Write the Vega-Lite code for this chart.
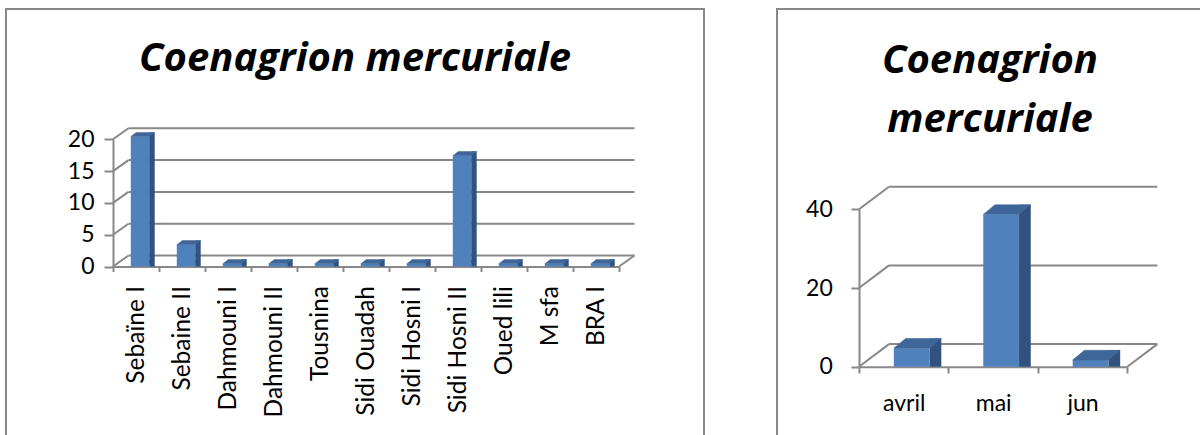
{
  "$schema": "https://vega.github.io/schema/vega-lite/v6.json",
  "background": "white",
  "padding": {"left": -8, "top": 8, "right": 0, "bottom": 0},
  "spacing": 73,
  "bounds": "flush",
  "config": {
    "font": "Lato",
    "view": {"stroke": "#888888", "strokeWidth": 2},
    "axis": {
      "domainColor": "#888888", "domainWidth": 2,
      "tickColor": "#888888", "tickWidth": 2,
      "labelColor": "#000000", "labelFont": "Lato", "labelFontSize": 23,
      "grid": false, "labelOverlap": false
    }
  },
  "datasets": {
    "sites": [
      {"site": "Sebaïne I", "n": 20},
      {"site": "Sebaine II", "n": 3},
      {"site": "Dahmouni I", "n": 0},
      {"site": "Dahmouni II", "n": 0},
      {"site": "Tousnina", "n": 0},
      {"site": "Sidi Ouadah", "n": 0},
      {"site": "Sidi Hosni I", "n": 0},
      {"site": "Sidi Hosni II", "n": 17},
      {"site": "Oued lili", "n": 0},
      {"site": "M sfa", "n": 0},
      {"site": "BRA I", "n": 0}
    ],
    "months": [
      {"mois": "avril", "n": 3},
      {"mois": "mai", "n": 37},
      {"mois": "jun", "n": 0}
    ],
    "ticksSites": [{"v": 0}, {"v": 5}, {"v": 10}, {"v": 15}, {"v": 20}],
    "ticksMonths": [{"v": 0}, {"v": 20}, {"v": 40}]
  },
  "hconcat": [
    {
      "width": 698,
      "height": 440,
      "title": {
        "text": "Coenagrion mercuriale",
        "font": "Open Sans", "fontSize": 40, "fontWeight": "bold", "fontStyle": "italic",
        "color": "#000000", "anchor": "middle", "frame": "group",
        "baseline": "alphabetic", "offset": -102
      },
      "layer": [
        {
          "data": {"name": "ticksSites"},
          "mark": {"type": "rule", "color": "#888888", "strokeWidth": 2, "xOffset": 15.5, "x2Offset": 15.5, "yOffset": -11},
          "encoding": {
            "x": {"datum": "Sebaïne I", "type": "nominal", "bandPosition": 0,
              "axis": {"orient": "bottom", "offset": -182.5, "title": null, "tickBand": "extent", "tickSize": 5, "labelAngle": -90, "labelAlign": "right", "labelBaseline": "middle", "labelPadding": 14, "labelFontSize": 24.5}},
            "x2": {"datum": "BRA I", "bandPosition": 1},
            "y": {"field": "v", "type": "quantitative",
              "axis": {"orient": "left", "offset": -107, "title": null, "values": [0, 5, 10, 15, 20], "tickSize": 9, "labelPadding": 10}}
          }
        },
        {
          "data": {"name": "ticksSites"},
          "mark": {"type": "point", "shape": "M0,0L15.5,-11", "size": 4, "filled": false, "opacity": 1, "stroke": "#888888", "strokeWidth": 2},
          "encoding": {
            "x": {"datum": "Sebaïne I", "type": "nominal", "bandPosition": 0,
              "axis": {"orient": "bottom", "offset": -182.5, "title": null, "tickBand": "extent", "tickSize": 5, "labelAngle": -90, "labelAlign": "right", "labelBaseline": "middle", "labelPadding": 14, "labelFontSize": 24.5}},
            "y": {"field": "v", "type": "quantitative",
              "axis": {"orient": "left", "offset": -107, "title": null, "values": [0, 5, 10, 15, 20], "tickSize": 9, "labelPadding": 10}}
          }
        },
        {
          "data": {"name": "ticksSites"},
          "transform": [{"filter": "datum.v == 0"}],
          "mark": {"type": "point", "shape": "M0,0L15.5,-11", "size": 4, "filled": false, "opacity": 1, "stroke": "#888888", "strokeWidth": 2},
          "encoding": {
            "x": {"datum": "BRA I", "type": "nominal", "bandPosition": 1,
              "axis": {"orient": "bottom", "offset": -182.5, "title": null, "tickBand": "extent", "tickSize": 5, "labelAngle": -90, "labelAlign": "right", "labelBaseline": "middle", "labelPadding": 14, "labelFontSize": 24.5}},
            "y": {"field": "v", "type": "quantitative",
              "axis": {"orient": "left", "offset": -107, "title": null, "values": [0, 5, 10, 15, 20], "tickSize": 9, "labelPadding": 10}}
          }
        },
        {
          "data": {"name": "sites"},
          "mark": {"type": "bar", "color": "#31527E", "width": 5.5, "xOffset": 15.95, "yOffset": -6.9, "y2Offset": -6.9},
          "encoding": {
            "x": {"field": "site", "type": "nominal", "sort": null,
              "axis": {"orient": "bottom", "offset": -182.5, "title": null, "tickBand": "extent", "tickSize": 5, "labelAngle": -90, "labelAlign": "right", "labelBaseline": "middle", "labelPadding": 14, "labelFontSize": 24.5}},
            "y": {"field": "n", "type": "quantitative", "stack": null,
              "axis": {"orient": "left", "offset": -107, "title": null, "values": [0, 5, 10, 15, 20], "tickSize": 9, "labelPadding": 10}}
          }
        },
        {
          "data": {"name": "sites"},
          "mark": {"type": "point", "shape": "M0,-4.2L5.5,-4.2L0,0Z", "size": 4, "filled": true, "opacity": 1, "color": "#31527E", "xOffset": 13.2, "yOffset": -2.7},
          "encoding": {
            "x": {"field": "site", "type": "nominal", "sort": null,
              "axis": {"orient": "bottom", "offset": -182.5, "title": null, "tickBand": "extent", "tickSize": 5, "labelAngle": -90, "labelAlign": "right", "labelBaseline": "middle", "labelPadding": 14, "labelFontSize": 24.5}},
            "y": {"datum": 0, "type": "quantitative",
              "axis": {"orient": "left", "offset": -107, "title": null, "values": [0, 5, 10, 15, 20], "tickSize": 9, "labelPadding": 10}}
          }
        },
        {
          "data": {"name": "sites"},
          "mark": {"type": "bar", "color": "#4F81BD", "width": {"band": 0.4}, "xOffset": 4, "yOffset": -2.7, "y2Offset": -2.7},
          "encoding": {
            "x": {
              "field": "site", "type": "nominal", "sort": null,
              "scale": {
                "domain": ["Sebaïne I", "Sebaine II", "Dahmouni I", "Dahmouni II", "Tousnina", "Sidi Ouadah", "Sidi Hosni I", "Sidi Hosni II", "Oued lili", "M sfa", "BRA I"],
                "range": [107, 613], "paddingInner": 0, "paddingOuter": 0
              },
              "axis": {"orient": "bottom", "offset": -182.5, "title": null, "tickBand": "extent", "tickSize": 5, "labelAngle": -90, "labelAlign": "right", "labelBaseline": "middle", "labelPadding": 14, "labelFontSize": 24.5}
            },
            "y": {
              "field": "n", "type": "quantitative", "stack": null,
              "scale": {"domain": [0, 20], "range": [257.5, 130.3], "nice": false},
              "axis": {"orient": "left", "offset": -107, "title": null, "values": [0, 5, 10, 15, 20], "tickSize": 9, "labelPadding": 10}
            }
          }
        },
        {
          "data": {"name": "sites"},
          "mark": {"type": "point", "shape": "M-9.2,0L9.2,0L14.7,-4.2L-3.7,-4.2Z", "size": 4, "filled": true, "opacity": 1, "color": "#3E6698", "stroke": "#3E6698", "strokeWidth": 0.5, "xOffset": 4, "yOffset": -2.7},
          "encoding": {
            "x": {"field": "site", "type": "nominal", "sort": null,
              "axis": {"orient": "bottom", "offset": -182.5, "title": null, "tickBand": "extent", "tickSize": 5, "labelAngle": -90, "labelAlign": "right", "labelBaseline": "middle", "labelPadding": 14, "labelFontSize": 24.5}},
            "y": {"field": "n", "type": "quantitative",
              "axis": {"orient": "left", "offset": -107, "title": null, "values": [0, 5, 10, 15, 20], "tickSize": 9, "labelPadding": 10}}
          }
        }
      ]
    },
    {
      "width": 426,
      "height": 440,
      "title": {
        "text": ["Coenagrion", "mercuriale"],
        "font": "Open Sans", "fontSize": 40, "fontWeight": "bold", "fontStyle": "italic",
        "color": "#000000", "anchor": "middle", "frame": "group",
        "baseline": "alphabetic", "lineHeight": 59.3, "offset": -163
      },
      "layer": [
        {
          "data": {"name": "ticksMonths"},
          "mark": {"type": "rule", "color": "#888888", "strokeWidth": 2, "xOffset": 30, "x2Offset": 30, "yOffset": -22.6},
          "encoding": {
            "x": {"datum": "avril", "type": "nominal", "bandPosition": 0,
              "axis": {"orient": "bottom", "offset": -82.3, "title": null, "tickBand": "extent", "tickSize": 6.3, "labelAngle": 0, "labelAlign": "center", "labelBaseline": "alphabetic", "labelPadding": 37}},
            "x2": {"datum": "jun", "bandPosition": 1},
            "y": {"field": "v", "type": "quantitative",
              "axis": {"orient": "left", "offset": -82, "title": null, "values": [0, 20, 40], "tickSize": 8, "labelPadding": 18.7}}
          }
        },
        {
          "data": {"name": "ticksMonths"},
          "mark": {"type": "point", "shape": "M0,0L30,-22.6", "size": 4, "filled": false, "opacity": 1, "stroke": "#888888", "strokeWidth": 2},
          "encoding": {
            "x": {"datum": "avril", "type": "nominal", "bandPosition": 0,
              "axis": {"orient": "bottom", "offset": -82.3, "title": null, "tickBand": "extent", "tickSize": 6.3, "labelAngle": 0, "labelAlign": "center", "labelBaseline": "alphabetic", "labelPadding": 37}},
            "y": {"field": "v", "type": "quantitative",
              "axis": {"orient": "left", "offset": -82, "title": null, "values": [0, 20, 40], "tickSize": 8, "labelPadding": 18.7}}
          }
        },
        {
          "data": {"name": "ticksMonths"},
          "transform": [{"filter": "datum.v == 0"}],
          "mark": {"type": "point", "shape": "M0,0L30,-22.6", "size": 4, "filled": false, "opacity": 1, "stroke": "#888888", "strokeWidth": 2},
          "encoding": {
            "x": {"datum": "jun", "type": "nominal", "bandPosition": 1,
              "axis": {"orient": "bottom", "offset": -82.3, "title": null, "tickBand": "extent", "tickSize": 6.3, "labelAngle": 0, "labelAlign": "center", "labelBaseline": "alphabetic", "labelPadding": 37}},
            "y": {"field": "v", "type": "quantitative",
              "axis": {"orient": "left", "offset": -82, "title": null, "values": [0, 20, 40], "tickSize": 8, "labelPadding": 18.7}}
          }
        },
        {
          "data": {"name": "months"},
          "mark": {"type": "bar", "color": "#31527E", "width": 11.7, "xOffset": 31.75, "yOffset": -16.4, "y2Offset": -16.4},
          "encoding": {
            "x": {"field": "mois", "type": "nominal", "sort": null,
              "axis": {"orient": "bottom", "offset": -82.3, "title": null, "tickBand": "extent", "tickSize": 6.3, "labelAngle": 0, "labelAlign": "center", "labelBaseline": "alphabetic", "labelPadding": 37}},
            "y": {"field": "n", "type": "quantitative", "stack": null,
              "axis": {"orient": "left", "offset": -82, "title": null, "values": [0, 20, 40], "tickSize": 8, "labelPadding": 18.7}}
          }
        },
        {
          "data": {"name": "months"},
          "mark": {"type": "point", "shape": "M0,-9.7L11.7,-9.7L0,0Z", "size": 4, "filled": true, "opacity": 1, "color": "#31527E", "xOffset": 25.9, "yOffset": -6.7},
          "encoding": {
            "x": {"field": "mois", "type": "nominal", "sort": null,
              "axis": {"orient": "bottom", "offset": -82.3, "title": null, "tickBand": "extent", "tickSize": 6.3, "labelAngle": 0, "labelAlign": "center", "labelBaseline": "alphabetic", "labelPadding": 37}},
            "y": {"datum": 0, "type": "quantitative",
              "axis": {"orient": "left", "offset": -82, "title": null, "values": [0, 20, 40], "tickSize": 8, "labelPadding": 18.7}}
          }
        },
        {
          "data": {"name": "months"},
          "mark": {"type": "bar", "color": "#4F81BD", "width": {"band": 0.4}, "xOffset": 8, "yOffset": -6.7, "y2Offset": -6.7},
          "encoding": {
            "x": {
              "field": "mois", "type": "nominal", "sort": null,
              "scale": {"domain": ["avril", "mai", "jun"], "range": [82, 350.3], "paddingInner": 0, "paddingOuter": 0},
              "axis": {"orient": "bottom", "offset": -82.3, "title": null, "tickBand": "extent", "tickSize": 6.3, "labelAngle": 0, "labelAlign": "center", "labelBaseline": "alphabetic", "labelPadding": 37}
            },
            "y": {
              "field": "n", "type": "quantitative", "stack": null,
              "scale": {"domain": [0, 40], "range": [357.7, 200.3], "nice": false},
              "axis": {"orient": "left", "offset": -82, "title": null, "values": [0, 20, 40], "tickSize": 8, "labelPadding": 18.7}
            }
          }
        },
        {
          "data": {"name": "months"},
          "mark": {"type": "point", "shape": "M-17.9,0L17.9,0L29.6,-9.7L-6.2,-9.7Z", "size": 4, "filled": true, "opacity": 1, "color": "#3E6698", "stroke": "#3E6698", "strokeWidth": 0.5, "xOffset": 8, "yOffset": -6.7},
          "encoding": {
            "x": {"field": "mois", "type": "nominal", "sort": null,
              "axis": {"orient": "bottom", "offset": -82.3, "title": null, "tickBand": "extent", "tickSize": 6.3, "labelAngle": 0, "labelAlign": "center", "labelBaseline": "alphabetic", "labelPadding": 37}},
            "y": {"field": "n", "type": "quantitative",
              "axis": {"orient": "left", "offset": -82, "title": null, "values": [0, 20, 40], "tickSize": 8, "labelPadding": 18.7}}
          }
        }
      ]
    }
  ]
}
